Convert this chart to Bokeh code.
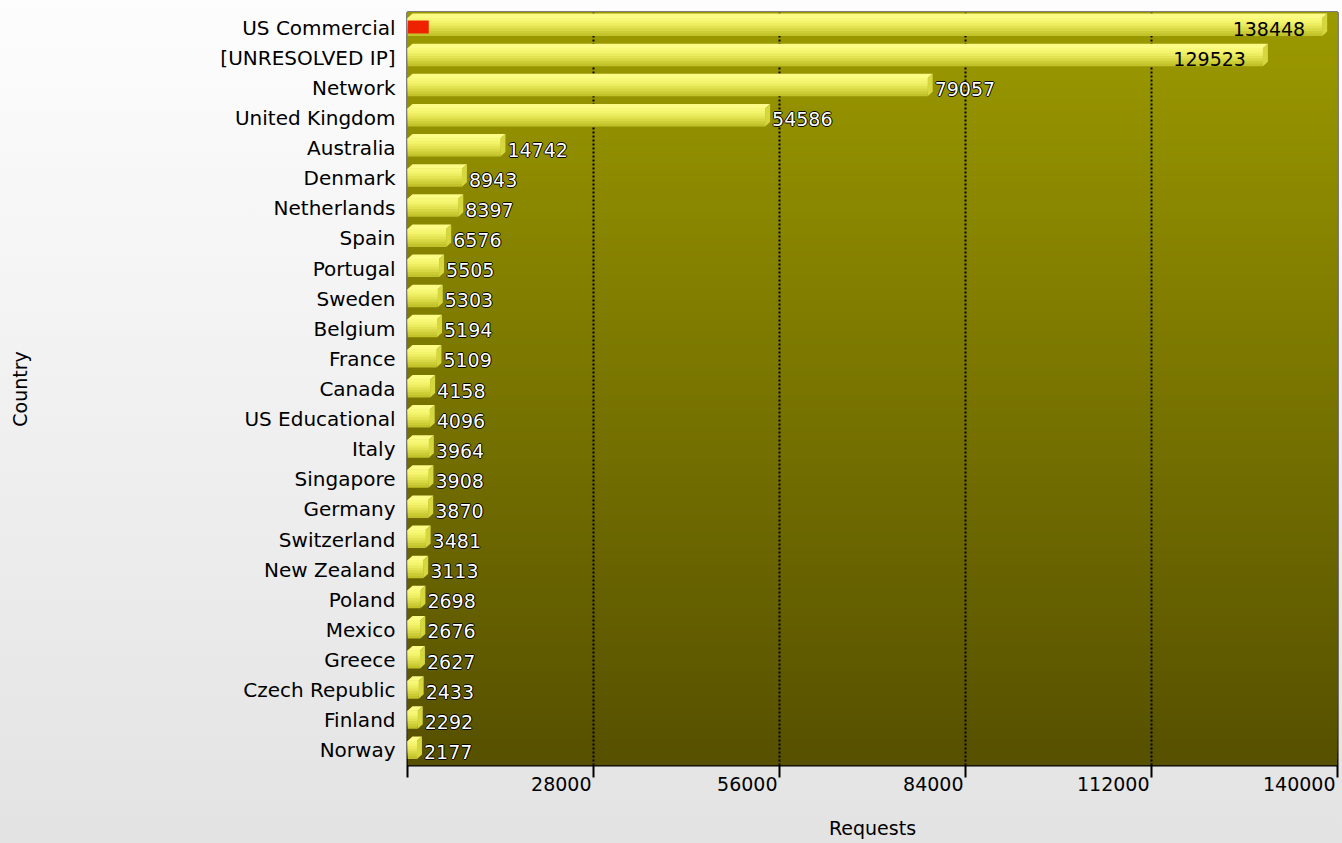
import numpy as np
from bokeh.plotting import figure
from bokeh.models import FixedTicker, ColumnDataSource, LinearAxis
from bokeh.core.properties import value
from bokeh.embed import file_html
from bokeh.resources import INLINE

countries = ["US Commercial", "[UNRESOLVED IP]", "Network", "United Kingdom", "Australia",
             "Denmark", "Netherlands", "Spain", "Portugal", "Sweden", "Belgium", "France",
             "Canada", "US Educational", "Italy", "Singapore", "Germany", "Switzerland",
             "New Zealand", "Poland", "Mexico", "Greece", "Czech Republic", "Finland", "Norway"]
requests = [138448, 129523, 79057, 54586, 14742, 8943, 8397, 6576, 5505, 5303, 5194, 5109,
            4158, 4096, 3964, 3908, 3870, 3481, 3113, 2698, 2676, 2627, 2433, 2292, 2177]
x_ticks = [0, 28000, 56000, 84000, 112000, 140000]
x_tick_labels = ["", "28000", "56000", "84000", "112000", "140000"]
highlight_country = "US Commercial"
highlight_value = 3200

FONT = "DejaVu Sans"
FS = 19
XMAX = 140000
n = len(countries)
W, H = 1342, 843
ML, MR, MT, MB = 407, 5, 12, 78
frame_w = W - ML - MR
upp = XMAX / frame_w          # data units per pixel (x)
cat_px = (H - MT - MB) / n    # pixels per category

p = figure(width=W, height=H, x_range=(0, XMAX), y_range=(-0.5, n - 0.5),
           output_backend="svg", toolbar_location=None,
           min_border_left=ML, min_border_right=MR, min_border_top=MT, min_border_bottom=MB)
p.border_fill_color = None
p.styles = {"background": "linear-gradient(180deg, #fdfdfd 0%, #e3e3e3 100%)"}
p.background_fill_color = "#777500"
p.outline_line_color = "black"
p.outline_line_width = 2

# plot-area vertical gradient (overlapping strips, drawn bottom-up)
NS = 120
edges = np.linspace(-0.5, n - 0.5, NS + 1)
top_rgb = np.array([156, 154, 0])
bot_rgb = np.array([86, 80, 0])
cols = []
for k in range(NS):
    t = (k + 0.5) / NS   # 0 bottom -> 1 top
    c = bot_rgb + (top_rgb - bot_rgb) * t
    cols.append("#%02x%02x%02x" % tuple(int(round(v)) for v in c))
p.quad(left=0, right=XMAX, bottom=edges[:-1], top=n - 0.5, fill_color=cols,
       line_color=None, level="image")

# geometry (in data units)
yc = np.array([n - 1 - i for i in range(n)], dtype=float)
vals = np.array(requests, dtype=float)
d = 5 * upp
e = 4.5 / cat_px
f_bot = -8.5 / cat_px
f_top = 9.5 / cat_px

# front face gradient (overlapping strips)
front_cols = ["#c2c22a", "#cccc36", "#d8d844", "#e2e252", "#ecec60", "#f4f46c", "#f8f878"]
K = len(front_cols)
L, R, B, T, C = [], [], [], [], []
for k in range(K):
    for i in range(n):
        b = f_bot + (f_top - f_bot) * k / K
        L.append(0); R.append(vals[i] - d)
        B.append(yc[i] + b); T.append(yc[i] + f_top); C.append(front_cols[k])
p.quad(left=L, right=R, bottom=B, top=T, fill_color=C, line_color=None)

# top and side faces
top_xs, top_ys, side_xs, side_ys = [], [], [], []
for i in range(n):
    v = vals[i]; y = yc[i]
    top_xs.append([0, d, v, v - d])
    top_ys.append([y + f_top, y + f_top + e, y + f_top + e, y + f_top])
    side_xs.append([v - d, v, v, v - d])
    side_ys.append([y + f_bot, y + f_bot + e, y + f_top + e, y + f_top])
p.patches(top_xs, top_ys, fill_color="#fbfb86", line_color=None)
p.patches(side_xs, side_ys, fill_color="#d6d63e", line_color=None)

# highlight
hi = countries.index(highlight_country)
p.quad(left=[0], right=[highlight_value], bottom=[yc[hi] - 6 / cat_px], top=[yc[hi] + 7 / cat_px],
       fill_color="#ee2200", line_color=None)

# value labels
label_w_px = 78
inside = [v + label_w_px * upp > XMAX for v in vals]
out_src = ColumnDataSource(dict(x=[vals[i] for i in range(n) if not inside[i]],
                                y=[yc[i] - 1.5 / cat_px for i in range(n) if not inside[i]],
                                t=[str(requests[i]) for i in range(n) if not inside[i]]))
in_src = ColumnDataSource(dict(x=[vals[i] for i in range(n) if inside[i]],
                               y=[yc[i] - 1.5 / cat_px for i in range(n) if inside[i]],
                               t=[str(requests[i]) for i in range(n) if inside[i]]))
for dx, dy in [(-1, 0), (1, 0), (0, -1), (0, 1)]:
    p.text(x="x", y="y", text="t", source=out_src, x_offset=2 + dx, y_offset=dy,
           text_align="left", text_baseline="middle", text_color="black",
           text_font=value(FONT), text_font_size=f"{FS}px")
p.text(x="x", y="y", text="t", source=out_src, x_offset=2, text_align="left",
       text_baseline="middle", text_color="white",
       text_font=value(FONT), text_font_size=f"{FS}px")
p.text(x="x", y="y", text="t", source=in_src, x_offset=-22, text_align="right",
       text_baseline="middle", text_color="black",
       text_font=value(FONT), text_font_size=f"{FS}px")

# grid
p.ygrid.visible = False
p.xgrid.ticker = FixedTicker(ticks=x_ticks)
p.xgrid.grid_line_color = "black"
p.xgrid.grid_line_dash = "2 2"
p.xgrid.grid_line_width = 2

# x axis 1: tick marks only
xa = p.xaxis[0]
xa.ticker = FixedTicker(ticks=x_ticks)
xa.major_label_overrides = {t: "" for t in x_ticks}
xa.major_label_text_font_size = "0px"
xa.major_label_standoff = 0
xa.axis_line_color = None
xa.major_tick_line_color = "black"
xa.major_tick_line_width = 2
xa.major_tick_in = 0
xa.major_tick_out = 12
xa.minor_tick_line_color = None

# x axis 2: right-aligned tick labels (label centre shifted left by half its width)
digit_w = 0.636 * FS
shifted = [t - (len(s) * digit_w / 2 + 2) * upp for t, s in zip(x_ticks, x_tick_labels)]
xa2 = LinearAxis(ticker=FixedTicker(ticks=[s for s, l in zip(shifted, x_tick_labels) if l]),
                 major_label_overrides={s: l for s, l in zip(shifted, x_tick_labels) if l})
xa2.axis_line_color = None
xa2.major_tick_line_color = None
xa2.minor_tick_line_color = None
xa2.major_tick_in = 0
xa2.major_tick_out = 0
xa2.major_label_standoff = -1
xa2.major_label_text_font = FONT
xa2.major_label_text_font_size = f"{FS}px"
xa2.major_label_text_color = "black"
xa2.axis_label = "Requests"
xa2.axis_label_text_font = FONT
xa2.axis_label_text_font_size = f"{FS}px"
xa2.axis_label_text_font_style = "normal"
xa2.axis_label_text_color = "black"
xa2.axis_label_standoff = 23
p.add_layout(xa2, "below")

# y axis
ya = p.yaxis[0]
ya.ticker = FixedTicker(ticks=list(range(n)))
ya.major_label_overrides = {int(yc[i]): countries[i] for i in range(n)}
ya.axis_line_color = None
ya.major_tick_line_color = None
ya.minor_tick_line_color = None
ya.major_label_standoff = 6
ya.major_label_text_font = FONT
ya.major_label_text_font_size = "20px"
ya.major_label_text_color = "black"
ya.axis_label = "Country"
ya.axis_label_text_font = FONT
ya.axis_label_text_font_size = f"{FS}px"
ya.axis_label_text_font_style = "normal"
ya.axis_label_text_color = "black"
ya.axis_label_standoff = 186

open("out.html", "w").write(file_html(p, INLINE))
